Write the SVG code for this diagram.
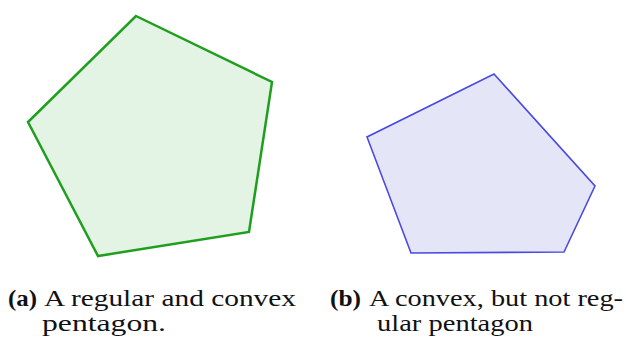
<svg xmlns="http://www.w3.org/2000/svg" width="626" height="342" viewBox="0 0 626 342">
<style>
text{font-family:"Liberation Serif","DejaVu Serif",serif;font-size:24px;fill:#111}
.b{font-weight:bold}
</style>
<rect width="626" height="342" fill="#fff"/>
<g id="pentagon-a"><polygon points="136,16 272,82 249,232 98,256 28,122" fill="#e4f4e4" stroke="#1f9e1f" stroke-width="2.5" stroke-linejoin="miter"/></g>
<g id="pentagon-b"><polygon points="494,74 595,186 564,252 411,253 367,137" fill="#e5e5f8" stroke="#4a4ae0" stroke-width="1.6"/></g>
<g id="caption-a">
<text y="306"><tspan class="b" x="8" textLength="29" lengthAdjust="spacingAndGlyphs">(a)</tspan><tspan x="44" textLength="252" lengthAdjust="spacingAndGlyphs">A regular and convex</tspan></text>
<text x="42" y="331" textLength="124" lengthAdjust="spacingAndGlyphs">pentagon.</text>
</g>
<g id="caption-b">
<text y="306"><tspan class="b" x="330" textLength="31" lengthAdjust="spacingAndGlyphs">(b)</tspan><tspan x="369" textLength="254" lengthAdjust="spacingAndGlyphs">A convex, but not reg-</tspan></text>
<text x="377" y="331" textLength="156" lengthAdjust="spacingAndGlyphs">ular pentagon</text>
</g>
</svg>
